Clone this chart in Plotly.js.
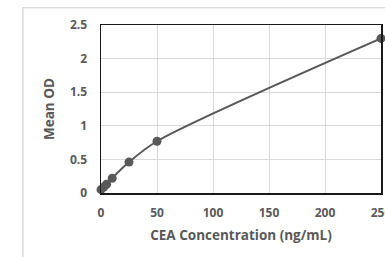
<!DOCTYPE html>
<html>
<head>
<meta charset="utf-8">
<script src="https://cdn.plot.ly/plotly-3.0.1.min.js"></script>
<style>html,body{margin:0;padding:0;background:#fff;overflow:hidden;width:385px;height:257px}#chart{width:410px;height:257px}</style>
</head>
<body>
<div id="chart"></div>
<script>
const concentration = [0, 2.5, 5, 10, 25, 50, 250];
const meanOD = [0.05, 0.09, 0.13, 0.22, 0.46, 0.77, 2.30];
const xTitle = "CEA Concentration (ng/mL)";
const yTitle = "Mean OD";

const textColor = "#595959";
const fontFam = "'Open Sans', 'Liberation Sans', sans-serif";

const trace = {
  x: concentration,
  y: meanOD,
  type: "scatter",
  mode: "lines+markers",
  line: {color: "#595959", width: 2, shape: "spline", smoothing: 0.8},
  marker: {color: "#595959", size: 9},
  cliponaxis: false,
  hoverinfo: "skip"
};

const layout = {
  width: 410, height: 257,
  margin: {l: 101, r: 29, t: 25, b: 64},
  paper_bgcolor: "#ffffff",
  plot_bgcolor: "#ffffff",
  showlegend: false,
  font: {family: fontFam, color: textColor},
  xaxis: {
    range: [0, 250], dtick: 50, tick0: 0,
    showgrid: true, gridcolor: "#d9d9d9", gridwidth: 1,
    zeroline: false,
    showline: true, linecolor: "#1a1a1a", linewidth: 1.5, mirror: true,
    ticks: "", ticklabelstandoff: 8,
    tickfont: {family: fontFam, size: 12, color: textColor, weight: "bold"},
    title: {text: xTitle, standoff: 10, font: {family: fontFam, size: 13.5, color: textColor, weight: "bold"}}
  },
  yaxis: {
    range: [0, 2.5], dtick: 0.5, tick0: 0,
    showgrid: true, gridcolor: "#d9d9d9", gridwidth: 1,
    zeroline: false,
    showline: true, linecolor: "#1a1a1a", linewidth: 1.5, mirror: true,
    ticks: "", ticklabelstandoff: 10,
    tickfont: {family: fontFam, size: 12, color: textColor, weight: "bold"},
    title: {text: yTitle, standoff: 12, font: {family: fontFam, size: 13.5, color: textColor, weight: "bold"}}
  },
  shapes: [{
    type: "rect", xref: "paper", yref: "paper",
    x0: -0.279, x1: 1.5, y0: -0.5, y1: 1.102,
    line: {color: "#d9d9d9", width: 1.5}, fillcolor: "rgba(0,0,0,0)", layer: "below"
  }]
};

Plotly.newPlot("chart", [trace], layout, {displayModeBar: false, staticPlot: true});
</script>
</body>
</html>
